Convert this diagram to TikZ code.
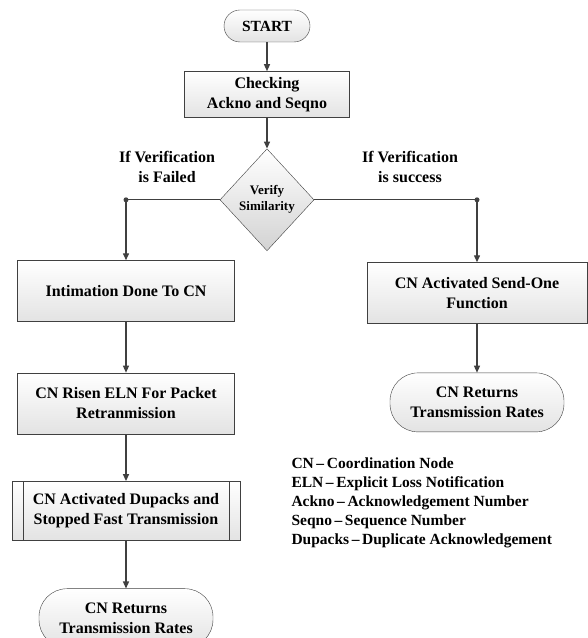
\documentclass[tikz,border=0pt]{standalone}
\usepackage{fontspec}
\setmainfont{Liberation Serif}
\usetikzlibrary{arrows.meta,positioning,shapes.geometric}
\definecolor{linegray}{RGB}{64,64,64}

\begin{document}
\begin{tikzpicture}[x=1pt,y=1pt,>={Triangle[length=7pt,width=6pt]},
  every node/.style={font=\fontsize{16}{20}\selectfont\bfseries,align=center},
  box/.style={draw=linegray,top color=white,bottom color=gray!22,minimum width=217pt,minimum height=61pt,inner sep=2pt},
  term/.style={draw=linegray,top color=white,bottom color=gray!22,rounded corners=28pt,minimum width=174pt,minimum height=59pt},
  decide/.style={draw=linegray,diamond,top color=white,bottom color=gray!35,minimum width=94pt,minimum height=102pt,inner sep=0pt,font=\fontsize{13}{16}\selectfont\bfseries},
  flow/.style={->,draw=linegray,line width=1.3pt}]
\useasboundingbox (0,0) rectangle (588,638);
\node[term,rounded corners=16pt,minimum width=86pt,minimum height=32pt,font=\fontsize{15.5}{19}\selectfont\bfseries] (start) at (267,612) {START};
\node[box,minimum width=165pt,minimum height=46pt,below=29pt of start] (check) {Checking\\Ackno and Seqno};
\node[decide,below=31pt of check] (verify) {Verify\\Similarity};
\node (failtxt) at (167,471) {If Verification\\is Failed};
\node (succtxt) at (410,471) {If Verification\\is success};
% left branch
\node[box] (intim) at (126,347) {Intimation Done To CN};
\node[box,below=51pt of intim] (risen) {CN Risen ELN For Packet\\Retranmission};
\node[box,minimum width=228pt,minimum height=59pt,below=47pt of risen] (dupack) {CN Activated Dupacks and\\Stopped Fast Transmission};
\node[term,below=48pt of dupack] (endleft) {CN Returns\\Transmission Rates};
% right branch
\node[box,minimum width=220pt] (sendone) at (477,345) {CN Activated Send-One\\Function};
\node[term,below=49pt of sendone] (endright) {CN Returns\\Transmission Rates};
\node[anchor=west,align=left,font=\fontsize{15.5}{19}\selectfont\bfseries] (legend) at (288,135) {CN\,--\,Coordination Node\\ELN\,--\,Explicit Loss Notification\\Ackno\,--\,Acknowledgement Number\\Seqno\,--\,Sequence Number\\Dupacks\,--\,Duplicate Acknowledgement};
\coordinate (fl) at (verify -| intim);
\coordinate (fr) at (verify -| sendone);
\draw[linegray] ([xshift=11pt]dupack.north west) -- ([xshift=11pt]dupack.south west);
\draw[linegray] ([xshift=-11pt]dupack.north east) -- ([xshift=-11pt]dupack.south east);
\draw[flow] (start) -- (check);
\draw[flow] (check) -- (verify);
\draw[linegray,line width=1.3pt] (verify.west) -- (fl);
\draw[linegray,line width=1.3pt] (verify.east) -- (fr);
\fill[linegray] (fl) circle (2.5pt) (fr) circle (2.5pt);
\draw[flow] (fl) -- (intim);
\draw[flow] (fr) -- (sendone);
\draw[flow] (intim) -- (risen);
\draw[flow] (risen) -- (dupack);
\draw[flow] (dupack) -- (endleft);
\draw[flow] (sendone) -- (endright);
\end{tikzpicture}
\end{document}
